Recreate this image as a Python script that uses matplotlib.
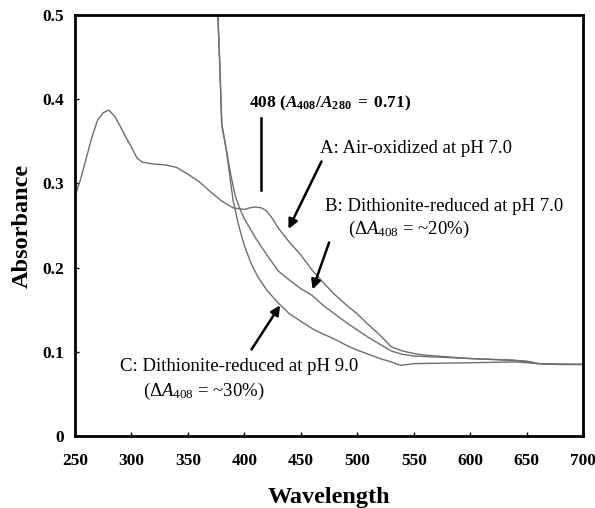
import numpy as np
import matplotlib
matplotlib.use("Agg")
import matplotlib.pyplot as plt

plt.rcParams['font.family'] = ['Liberation Serif', 'DejaVu Serif']
plt.rcParams['mathtext.fontset'] = 'custom'
plt.rcParams['mathtext.rm'] = 'Liberation Serif'
plt.rcParams['mathtext.it'] = 'Liberation Serif:italic'
plt.rcParams['mathtext.bf'] = 'Liberation Serif:bold'
plt.rcParams['mathtext.bfit'] = 'Liberation Serif:bold:italic'

# A: air-oxidized pH 7.0
wl_a = [250, 255, 260, 265, 270, 275, 280, 285, 290, 295, 300, 305, 310, 320, 330, 340,
        350, 360, 370, 380, 390, 400, 405, 410, 415, 420, 425, 430, 440, 450, 460, 470,
        480, 490, 500, 510, 520, 530, 540, 550, 560, 580, 600, 620, 640, 650, 660, 680, 700]
abs_a = [0.285, 0.305, 0.330, 0.355, 0.375, 0.384, 0.387, 0.380, 0.368, 0.355, 0.343, 0.330,
         0.325, 0.323, 0.322, 0.319, 0.311, 0.302, 0.290, 0.279, 0.271, 0.269, 0.271, 0.272,
         0.271, 0.267, 0.258, 0.247, 0.230, 0.215, 0.197, 0.182, 0.168, 0.156, 0.145, 0.132,
         0.120, 0.106, 0.101, 0.098, 0.096, 0.094, 0.092, 0.091, 0.090, 0.088, 0.086, 0.085, 0.085]

# B: dithionite-reduced pH 7.0
wl_b = [372, 376, 378, 380, 384, 388, 392, 396, 400, 410, 420, 430, 440, 450, 460, 470, 480,
        490, 500, 510, 520, 530, 540, 550, 600, 650, 660, 700]
abs_b = [0.80, 0.52, 0.45, 0.37, 0.34, 0.31, 0.285, 0.270, 0.258, 0.235, 0.215, 0.196, 0.185,
         0.175, 0.167, 0.155, 0.145, 0.135, 0.126, 0.117, 0.109, 0.101, 0.097, 0.095, 0.092,
         0.089, 0.086, 0.085]

# C: dithionite-reduced pH 9.0
wl_c = [372, 376, 378, 380, 384, 387, 390, 395, 400, 406, 412, 420, 430, 440, 448, 455, 462,
        470, 480, 490, 500, 510, 520, 530, 538, 545, 550, 600, 640, 650, 660, 680, 700]
abs_c = [0.80, 0.52, 0.45, 0.37, 0.34, 0.31, 0.280, 0.250, 0.226, 0.205, 0.189, 0.173, 0.158,
         0.145, 0.138, 0.132, 0.126, 0.121, 0.115, 0.108, 0.102, 0.097, 0.092, 0.088, 0.084,
         0.085, 0.086, 0.087, 0.088, 0.087, 0.086, 0.085, 0.085]

fig = plt.figure(figsize=(5.95, 5.08), dpi=100)
ax = fig.add_axes([0.126, 0.1417, 0.854, 0.8288])

for w, a in [(wl_a, abs_a), (wl_b, abs_b), (wl_c, abs_c)]:
    ax.plot(w, a, color='#6e6e6e', lw=1.0)

ax.set_xlim(250, 700)
ax.set_ylim(0, 0.5)
ax.set_xticks(np.arange(250, 701, 50))
ax.set_yticks([0, 0.1, 0.2, 0.3, 0.4, 0.5])
ax.set_yticklabels(['0', '0.1', '0.2', '0.3', '0.4', '0.5'])
ax.tick_params(direction='in', length=3, width=1, labelsize=12.5)
ax.tick_params(axis='x', pad=12)
ax.tick_params(axis='y', pad=8)
for lab in ax.get_xticklabels() + ax.get_yticklabels():
    lab.set_fontweight('bold')
for s in ax.spines.values():
    s.set_linewidth(2)

ax.set_xlabel('Wavelength', fontsize=17.5, fontweight='bold', labelpad=13)
ax.set_ylabel('Absorbance', fontsize=17.5, fontweight='bold', labelpad=7)

# annotations
ax.text(404, 0.395, r'$\mathbf{408\ (}\mathbfit{A}_{\mathbf{408}}\mathbf{/}\mathbfit{A}_{\mathbf{280}}\mathbf{\ =\ 0.71)}$',
        fontsize=12.5, va='center', ha='left')
ax.plot([415, 415], [0.292, 0.378], color='black', lw=1.8)

fs = 13.5
ax.text(467, 0.342, 'A: Air-oxidized at pH 7.0', fontsize=fs, va='center', ha='left')
ax.annotate('', xy=(438, 0.243), xytext=(469.4, 0.329),
            arrowprops=dict(arrowstyle='-|>', color='black', lw=1.8, mutation_scale=14))

ax.text(471.4, 0.272, 'B: Dithionite-reduced at pH 7.0', fontsize=fs, va='center', ha='left')
ax.text(492, 0.245, r'($\mathit{\Delta A}_{408}$ = ~20%)', fontsize=fs, va='center', ha='left')
ax.annotate('', xy=(459.6, 0.171), xytext=(475.9, 0.233),
            arrowprops=dict(arrowstyle='-|>', color='black', lw=1.8, mutation_scale=14))

ax.text(289.9, 0.082, 'C: Dithionite-reduced at pH 9.0', fontsize=fs, va='center', ha='left')
ax.text(310.5, 0.053, r'($\mathit{\Delta A}_{408}$ = ~30%)', fontsize=fs, va='center', ha='left')
ax.annotate('', xy=(433, 0.158), xytext=(405, 0.100),
            arrowprops=dict(arrowstyle='-|>', color='black', lw=1.8, mutation_scale=14))

fig.savefig('out.png', dpi=100)
